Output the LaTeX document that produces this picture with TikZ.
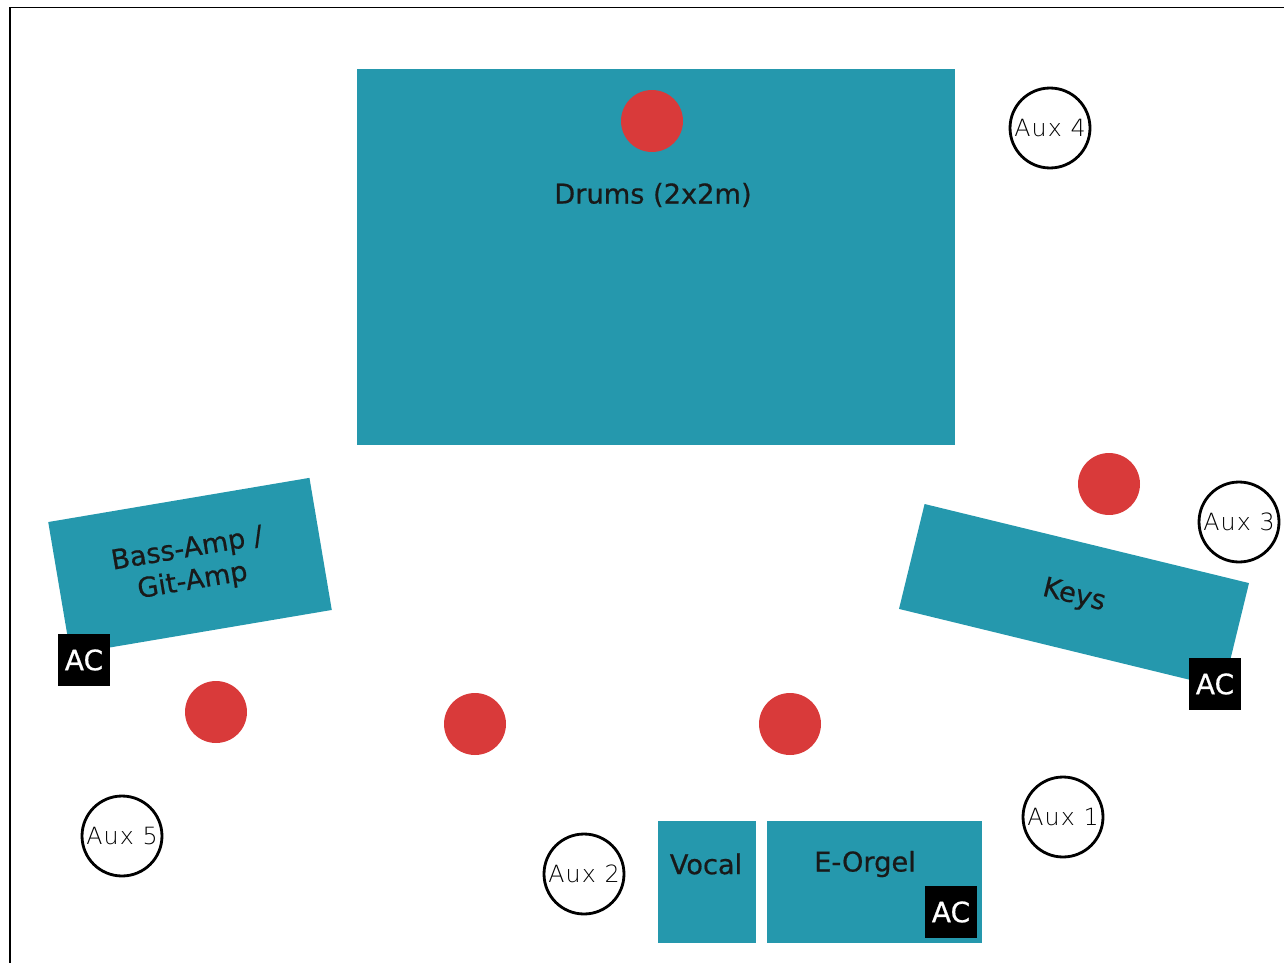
\documentclass[tikz,border=0pt]{standalone}
\usepackage{fontspec}
\setmainfont{DejaVu Sans}
\newfontfamily\riserfont[FakeBold=0.6]{DejaVu Sans}
\newfontfamily\auxfont[LetterSpace=5]{DejaVu Sans ExtraLight}
\usepackage{xcolor}
\definecolor{stageteal}{HTML}{2598AD}
\definecolor{micred}{HTML}{D93A3A}
\usepackage{tikz}

\begin{document}
\begin{tikzpicture}[x=0.02cm,y=-0.02cm,
  riser/.style={fill=stageteal,draw=none,inner sep=0pt,align=center,
    font=\riserfont\fontsize{15.5}{18.5}\selectfont,text=black!90},
  riserlabel/.style={font=\riserfont\fontsize{15.5}{18.5}\selectfont,text=black!90},
  mic/.style={circle,fill=micred,draw=none,minimum size=1.24cm,inner sep=0pt},
  aux/.style={circle,draw=black,line width=1.6pt,fill=white,minimum size=1.6cm,
    inner sep=0pt,font=\auxfont\fontsize{13.5}{15}\selectfont},
  acbox/.style={fill=black,text=white,minimum size=1.04cm,inner sep=0pt,
    font=\riserfont\fontsize{16}{18}\selectfont}]
\useasboundingbox (0,0) rectangle (1284,963);

% Frame (top and left edge)
\coordinate (frameTR) at (1284,7.5);
\coordinate (frameTL) at (10,7.5);
\coordinate (frameBL) at (10,963);
\draw[line width=1.1pt] (frameTR) -- (frameTL) -- (frameBL);

% Drums riser
\node[riser,minimum width=11.96cm,minimum height=7.52cm] (drums) at (656,257) {};
\node[riserlabel] (drumslabel) at (653,195) {Drums (2x2m)};
\node[mic] (micdrums) at (652,121) {};

% Bass-Amp / Git-Amp
\node[riser,minimum width=5.3cm,minimum height=2.68cm,rotate=9.6] (bassamp) at (190,566) {Bass-Amp /\\Git-Amp};
\node[acbox] (acbass) at (84,660) {AC};

% Keys
\node[riser,minimum width=6.68cm,minimum height=2.16cm,rotate=-13.7] (keys) at (1074,596) {Keys};
\node[acbox] (ackeys) at (1215,684) {AC};
\node[mic] (mickeys) at (1109,484) {};

% Front line microphones
\node[mic] (micleft) at (216,712) {};
\node[mic] (micmid) at (475,724) {};
\node[mic] (micright) at (790,724) {};

% Vocal and E-Orgel
\node[riser,minimum width=1.96cm,minimum height=2.44cm] (vocal) at (707,882) {};
\node[riserlabel] (vocallabel) at (706,864) {Vocal};
\node[riser,minimum width=4.3cm,minimum height=2.44cm] (eorgel) at (874.5,882) {};
\node[riserlabel] (eorgellabel) at (865,864) {E-Orgel};
\node[acbox] (acorgel) at (951,912) {AC};

% Aux monitors
\node[aux] (aux1) at (1063,817) {Aux 1};
\node[aux] (aux2) at (584,874) {Aux 2};
\node[aux] (aux3) at (1239,522) {Aux 3};
\node[aux] (aux4) at (1050,128) {Aux 4};
\node[aux] (aux5) at (122,836) {Aux 5};
\end{tikzpicture}
\end{document}
